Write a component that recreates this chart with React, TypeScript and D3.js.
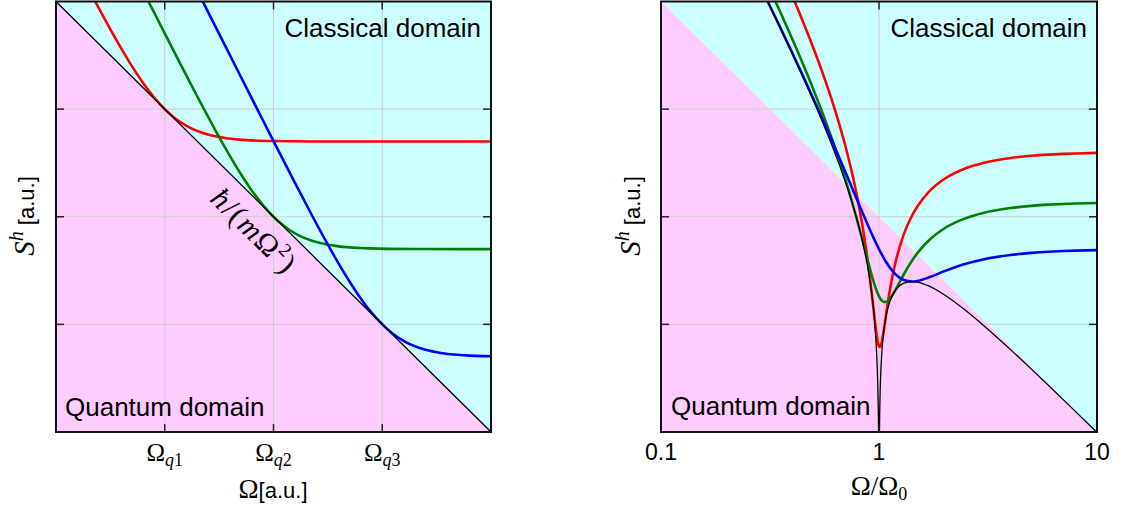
import React from "react";
import * as d3 from "d3";

// ---------- data ----------
// Left panel: free mass, S vs Omega (a.u.), log-log
const leftSQL: [number, number][] = [[0.1, 100], [10, 0.01]];
const leftRed: [number, number][] = [
  [0.15, 103.8], [0.17, 64.9], [0.2, 36.25], [0.22, 26.34], [0.25, 17.8], [0.27, 14.41],
  [0.3, 11.17], [0.32, 9.77], [0.35, 8.33], [0.4, 6.95], [0.45, 6.22], [0.5, 5.8],
  [0.6, 5.39], [0.7, 5.21], [0.8, 5.12], [1, 5.05], [1.5, 5.01], [2, 5.003], [10, 5.0],
];
const leftGreen: [number, number][] = [
  [0.26, 109.9], [0.28, 81.85], [0.32, 48.18], [0.36, 30.27], [0.4, 20.03], [0.45, 12.69],
  [0.5, 8.5], [0.55, 5.964], [0.6, 4.358], [0.7, 2.58], [0.8, 1.72], [0.9, 1.262], [1, 1.0],
  [1.1, 0.8415], [1.2, 0.741], [1.3, 0.675], [1.5, 0.599], [1.7, 0.56], [2, 0.531],
  [2.5, 0.5128], [3, 0.506], [5, 0.5008], [10, 0.5],
];
const leftBlue: [number, number][] = [
  [0.47, 102.5], [0.5, 80.05], [0.55, 54.69], [0.6, 38.63], [0.7, 20.87], [0.8, 12.26],
  [0.9, 7.67], [1, 5.05], [1.1, 3.465], [1.25, 2.098], [1.5, 1.038], [1.75, 0.583],
  [2, 0.3625], [2.25, 0.245], [2.5, 0.178], [2.75, 0.137], [3, 0.1117], [3.5, 0.0833],
  [4, 0.0695], [5, 0.058], [6, 0.0539], [8, 0.0512], [10, 0.0505],
];
const leftTicks = [0.3162, 1, 3.162];
const leftTickSubs = ["1", "2", "3"];
const yTicks = [10, 1, 0.1];

// Right panel: oscillator, S vs Omega/Omega0
const rightOmega = [
  0.3, 0.32, 0.35, 0.4, 0.45, 0.5, 0.55, 0.6, 0.65, 0.7, 0.75, 0.8, 0.85, 0.9, 0.93, 0.95,
  0.97, 0.98, 0.99, 1.0, 1.01, 1.02, 1.03, 1.05, 1.08, 1.1, 1.15, 1.2, 1.3, 1.414, 1.5, 1.7,
  2, 2.5, 3, 4, 5, 6, 7, 8, 10,
];
const rightRed = [
  416.7, 313.3, 209.4, 112.7, 63.56, 37.0, 21.95, 13.12, 7.823, 4.594, 2.617, 1.418, 0.7098,
  0.3153, 0.1811, 0.1234, 0.08638, 0.07456, 0.06671, 0.0625, 0.06161, 0.06377, 0.06871,
  0.08599, 0.1273, 0.1632, 0.2736, 0.4036, 0.6887, 1.0156, 1.2469, 1.7182, 2.2539, 2.824,
  3.1613, 3.5159, 3.6865, 3.7809, 3.8384, 3.876, 3.9204,
];
const rightGreen = [
  162.6, 122.7, 82.46, 44.89, 25.7, 15.25, 9.278, 5.738, 3.582, 2.244, 1.406, 0.879, 0.5517,
  0.3535, 0.2774, 0.2401, 0.2116, 0.2002, 0.1906, 0.1825, 0.1759, 0.1707, 0.1667, 0.162,
  0.162, 0.1659, 0.1858, 0.2159, 0.2923, 0.3881, 0.4589, 0.6078, 0.782, 0.9713, 1.0847,
  1.2048, 1.2629, 1.2951, 1.3147, 1.3276, 1.3428,
];
const rightBlue = [
  112.8, 86.1, 58.98, 33.31, 19.95, 12.5, 8.122, 5.438, 3.735, 2.624, 1.883, 1.379, 1.032,
  0.7896, 0.6806, 0.6197, 0.5668, 0.5429, 0.5207, 0.5, 0.4807, 0.4627, 0.4459, 0.4157,
  0.3777, 0.3566, 0.3156, 0.2878, 0.2584, 0.25, 0.2531, 0.2737, 0.3125, 0.3656, 0.4012,
  0.4414, 0.4616, 0.473, 0.48, 0.4846, 0.4901,
];
const blackOmega = [
  0.3, 0.32, 0.35, 0.4, 0.45, 0.5, 0.55, 0.6, 0.65, 0.7, 0.75, 0.8, 0.85, 0.9, 0.93, 0.95,
  0.97, 0.98, 0.99, 0.995, 0.999, 1.001, 1.005, 1.01, 1.02, 1.03, 1.05, 1.08, 1.1, 1.15, 1.2,
  1.3, 1.414, 1.5, 1.7, 2, 2.5, 3, 4, 5, 6, 7, 8, 10,
];
const rightBlack = [
  112.3, 85.6, 58.48, 32.81, 19.45, 12.0, 7.622, 4.938, 3.235, 2.124, 1.383, 0.879, 0.5316,
  0.2896, 0.1806, 0.1197, 0.06676, 0.04293, 0.02072, 0.01018, 0.002007, 0.001993, 0.009827,
  0.01932, 0.03732, 0.05411, 0.08433, 0.1223, 0.1434, 0.1844, 0.2122, 0.2416, 0.25, 0.2469,
  0.2263, 0.1875, 0.1344, 0.09877, 0.05859, 0.0384, 0.02701, 0.01999, 0.01538, 0.0099,
];
const rightTicks = [0.1, 1, 10];
const rightTickLabels = ["0.1", "1", "10"];
const boundary: [number, number][] = [[0.1, 100], [10, 0.01]];

// ---------- layout ----------
const Y0 = 1.5;
const Y1 = 432;
const PINK = "#ffccff";
const CYAN = "#ccffff";
const GRID = "#cccccc";
const SANS = "'Liberation Sans', Arial, sans-serif";
const SERIF = "'Liberation Serif', 'Times New Roman', serif";
const LW = 2.6;

type Panel = { x0: number; x1: number; id: string };

function makeScales(p: Panel) {
  const x = d3.scaleLog().domain([0.1, 10]).range([p.x0, p.x1]);
  const y = d3.scaleLog().domain([0.01, 100]).range([Y1, Y0]);
  return { x, y };
}

function Frame({ p, xt }: { p: Panel; xt: number[] }) {
  const { x, y } = makeScales(p);
  const bx0 = x(boundary[0][0]);
  const by0 = y(boundary[0][1]);
  const bx1 = x(boundary[1][0]);
  const by1 = y(boundary[1][1]);
  return (
    <g>
      <polygon points={`${p.x0},${Y0} ${p.x1},${Y0} ${bx1},${by1} ${bx0},${by0}`} fill={CYAN} />
      <polygon points={`${bx0},${by0} ${bx1},${by1} ${p.x0},${Y1}`} fill={PINK} />
      {xt.map((t, i) => (
        <line key={"gx" + i} x1={x(t)} x2={x(t)} y1={Y0} y2={Y1} stroke={GRID} strokeWidth={1} />
      ))}
      {yTicks.map((t, i) => (
        <line key={"gy" + i} x1={p.x0} x2={p.x1} y1={y(t)} y2={y(t)} stroke={GRID} strokeWidth={1} />
      ))}
    </g>
  );
}

function Axes({ p, xt }: { p: Panel; xt: number[] }) {
  const { x, y } = makeScales(p);
  const L = 8;
  return (
    <g>
      {xt.map((t, i) => (
        <g key={"tx" + i}>
          <line x1={x(t)} x2={x(t)} y1={Y1} y2={Y1 - L} stroke="#222" strokeWidth={1.5} />
          <line x1={x(t)} x2={x(t)} y1={Y0} y2={Y0 + L} stroke="#222" strokeWidth={1.5} />
        </g>
      ))}
      {yTicks.map((t, i) => (
        <g key={"ty" + i}>
          <line x1={p.x0} x2={p.x0 + L} y1={y(t)} y2={y(t)} stroke="#222" strokeWidth={1.5} />
          <line x1={p.x1} x2={p.x1 - L} y1={y(t)} y2={y(t)} stroke="#222" strokeWidth={1.5} />
        </g>
      ))}
      <rect x={p.x0} y={Y0} width={p.x1 - p.x0} height={Y1 - Y0} fill="none" stroke="#111" strokeWidth={2} />
    </g>
  );
}

function Curve({ p, data, color, width }: { p: Panel; data: [number, number][]; color: string; width: number }) {
  const { x, y } = makeScales(p);
  const line = d3
    .line<[number, number]>()
    .x((d) => x(d[0]))
    .y((d) => y(d[1]))
    .curve(d3.curveMonotoneX);
  return <path d={line(data) || ""} fill="none" stroke={color} strokeWidth={width} clipPath={`url(#clip-${p.id})`} strokeLinejoin="round" />;
}

function YLabel({ x }: { x: number }) {
  return (
    <text transform={`translate(${x},216) rotate(-90)`} textAnchor="middle" fontSize={22} fontFamily={SANS} fill="#000">
      <tspan fontFamily={SERIF} fontStyle="italic" fontSize={29}>S</tspan>
      <tspan fontFamily={SERIF} fontStyle="italic" fontSize={20} dy={-11}>h</tspan>
      <tspan dy={11}> [a.u.]</tspan>
    </text>
  );
}

export default function App() {
  const left: Panel = { x0: 56, x1: 491, id: "l" };
  const right: Panel = { x0: 661, x1: 1097, id: "r" };
  const ls = makeScales(left);
  const rs = makeScales(right);
  const zip = (xs: number[], ys: number[]): [number, number][] => xs.map((v, i) => [v, ys[i]]);

  return (
    <svg width={1121} height={510} style={{ position: "absolute", left: 0, top: 0, background: "#fff" }}>
      <defs>
        {[left, right].map((p) => (
          <clipPath id={`clip-${p.id}`} key={p.id}>
            <rect x={p.x0} y={Y0} width={p.x1 - p.x0} height={Y1 - Y0} />
          </clipPath>
        ))}
      </defs>

      {/* left panel */}
      <Frame p={left} xt={leftTicks} />
      <Curve p={left} data={leftRed} color="#ff0000" width={LW} />
      <Curve p={left} data={leftGreen} color="#008000" width={LW} />
      <Curve p={left} data={leftBlue} color="#0000ff" width={LW} />
      <Curve p={left} data={leftSQL} color="#000" width={1.3} />
      <Axes p={left} xt={leftTicks} />
      <text x={481} y={37} textAnchor="end" fontSize={26} fontFamily={SANS}>Classical domain</text>
      <text x={65} y={416} fontSize={26} fontFamily={SANS}>Quantum domain</text>
      <text transform="translate(247,238) rotate(44.7)" textAnchor="middle" fontSize={30} fontFamily={SERIF} letterSpacing={1.5}>
        <tspan fontStyle="italic">ħ</tspan>/(<tspan fontStyle="italic">m</tspan>Ω<tspan fontSize={19} dy={-12}>2</tspan><tspan dy={12}>)</tspan>
      </text>
      {leftTicks.map((t, i) => (
        <text key={"lt" + i} x={ls.x(t)} y={461} textAnchor="middle" fontSize={25} fontFamily={SERIF}>
          Ω<tspan fontSize={18} dy={5}><tspan fontStyle="italic">q</tspan>{leftTickSubs[i]}</tspan>
        </text>
      ))}
      <text x={273} y={498} textAnchor="middle" fontSize={22} fontFamily={SANS}>
        <tspan fontFamily={SERIF} fontSize={27}>Ω</tspan>[a.u.]
      </text>
      <YLabel x={34} />

      {/* right panel */}
      <Frame p={right} xt={rightTicks} />
      <Curve p={right} data={zip(rightOmega, rightRed)} color="#ff0000" width={LW} />
      <Curve p={right} data={zip(rightOmega, rightGreen)} color="#008000" width={LW} />
      <Curve p={right} data={zip(rightOmega, rightBlue)} color="#0000ff" width={LW} />
      <Curve p={right} data={zip(blackOmega, rightBlack)} color="#000" width={1.3} />
      <Axes p={right} xt={rightTicks} />
      <text x={1087} y={37} textAnchor="end" fontSize={26} fontFamily={SANS}>Classical domain</text>
      <text x={671} y={415} fontSize={26} fontFamily={SANS}>Quantum domain</text>
      {rightTicks.map((t, i) => (
        <text key={"rt" + i} x={rs.x(t)} y={460} textAnchor="middle" fontSize={23} fontFamily={SANS}>
          {rightTickLabels[i]}
        </text>
      ))}
      <text x={879} y={495} textAnchor="middle" fontSize={27} fontFamily={SERIF}>
        Ω/Ω<tspan fontSize={18} dy={5}>0</tspan>
      </text>
      <YLabel x={640} />
    </svg>
  );
}
